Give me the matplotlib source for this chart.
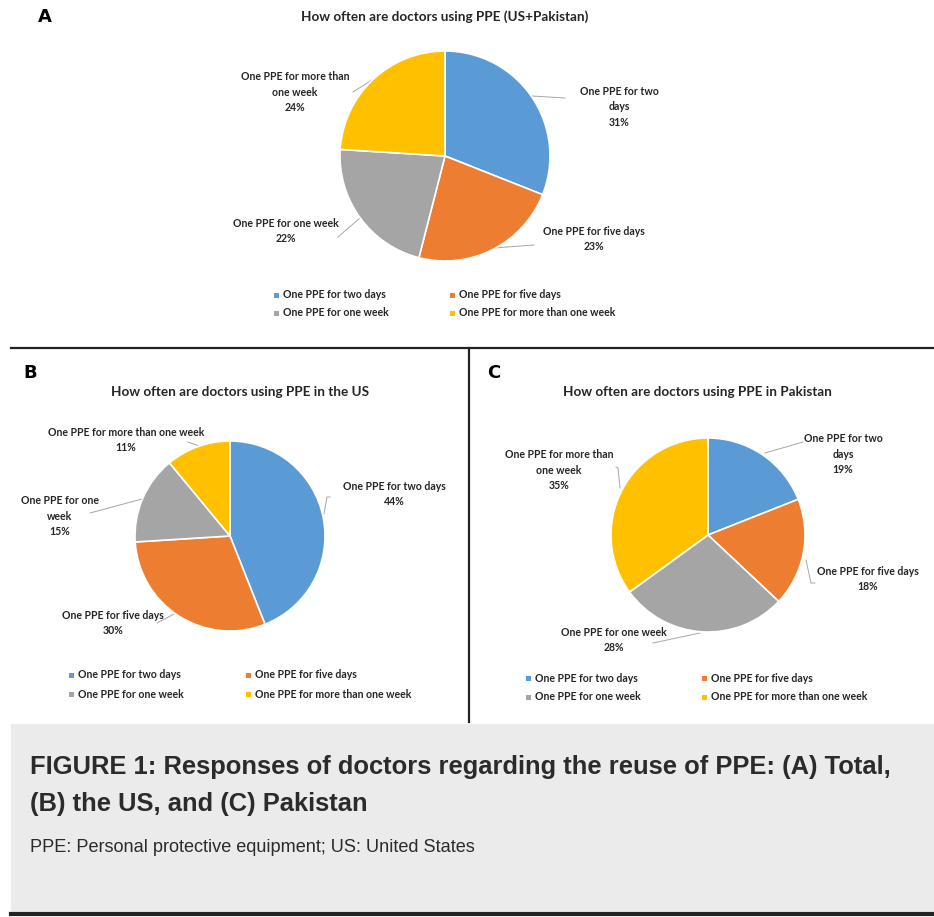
import matplotlib
matplotlib.use("Agg")
import matplotlib.pyplot as plt
from matplotlib.patches import Rectangle

# data
categories = ["One PPE for two days", "One PPE for five days",
              "One PPE for one week", "One PPE for more than one week"]
total_pct = [31, 23, 22, 24]
us_pct = [44, 30, 15, 11]
pak_pct = [19, 18, 28, 35]
colors = ["#5B9BD5", "#ED7D31", "#A5A5A5", "#FFC000"]

W, H = 934, 917
FONT = "Lato"
TXT = "#262626"
LEAD = "#A6A6A6"

fig = plt.figure(figsize=(W / 100, H / 100), dpi=100)
fig.patch.set_facecolor("white")

# overlay axes in pixel units (y down)
bg = fig.add_axes([0, 0, 1, 1])
bg.set_xlim(0, W)
bg.set_ylim(H, 0)
bg.axis("off")


def pie_panel(vals, cx, cy, r, letter, lx, ly, title, tx, ty, labels, legend):
    ax = fig.add_axes([(cx - r) / W, 1 - (cy + r) / H, 2 * r / W, 2 * r / H])
    ax.pie(vals, colors=colors, startangle=90, counterclock=False,
           wedgeprops=dict(edgecolor="white", linewidth=1.2))
    ax.set_xlim(-1, 1)
    ax.set_ylim(-1, 1)
    ax.axis("off")

    bg.text(lx, ly, letter, fontsize=13, fontweight="bold", family="DejaVu Sans",
            color="black", ha="left", va="center")
    bg.text(tx, ty, title, fontsize=9.7, fontweight="bold", family=FONT,
            color=TXT, ha="center", va="center")

    # data labels with leader lines
    for i, (name, x, y, line) in enumerate(labels):
        bg.text(x, y, f"{name}\n{vals[i]}%", fontsize=7.6, fontweight="bold",
                family=FONT, color=TXT, ha="center", va="center",
                multialignment="center", linespacing=1.45)
        xs, ys = zip(*line)
        bg.plot(xs, ys, color=LEAD, lw=0.7)

    # legend, 2 x 2
    (x1, x2), (y1, y2) = legend
    spots = [(x1, y1), (x2, y1), (x1, y2), (x2, y2)]
    for i, (x, y) in enumerate(spots):
        bg.add_patch(Rectangle((x - 2.5, y - 2.5), 5, 5, color=colors[i], lw=0))
        bg.text(x + 7, y, categories[i], fontsize=7.6, fontweight="bold",
                family=FONT, color=TXT, ha="left", va="center")


# panel A
pie_panel(total_pct, 445, 156, 105, "A", 38, 17,
          "How often are doctors using PPE (US+Pakistan)", 445, 17,
          [("One PPE for two\ndays", 619, 107, [(532, 96), (565, 98)]),
           ("One PPE for five days", 594, 239, [(494, 248), (534, 245)]),
           ("One PPE for one week", 286, 231, [(360, 218), (338, 237)]),
           ("One PPE for more than\none week", 295, 92, [(372, 80), (353, 92)])],
          ((276, 452), (295, 313)))

# panel B
pie_panel(us_pct, 230, 536, 95, "B", 23, 373,
          "How often are doctors using PPE in the US", 240, 392,
          [("One PPE for two days", 394, 494, [(324, 514), (327, 497), (330, 497)]),
           ("One PPE for five days", 113, 623, [(176, 613), (157, 623)]),
           ("One PPE for one\nweek", 60, 516, [(142, 499), (90, 513)]),
           ("One PPE for more than one week", 126, 440, [(199, 446), (188, 442)])],
          ((71, 248), (675, 694)))

# panel C
pie_panel(pak_pct, 708, 535, 97, "C", 487, 373,
          "How often are doctors using PPE in Pakistan", 697, 392,
          [("One PPE for two\ndays", 843, 454, [(765, 453), (803, 442)]),
           ("One PPE for five days", 868, 579, [(806, 560), (811, 583), (815, 583)]),
           ("One PPE for one week", 614, 640, [(700, 633), (653, 643)]),
           ("One PPE for more than\none week", 559, 470, [(620, 488), (618, 468), (616, 467)])],
          ((528, 704), (678, 697)))

# panel frame lines
bg.plot([11, W], [348, 348], color="#222222", lw=1.6)
bg.plot([469, 469], [348, 722], color="#222222", lw=1.6)

# caption box
bg.add_patch(Rectangle((11, 724), W - 11, 188, color="#EBEBEB", lw=0))
bg.plot([11, W], [914, 914], color="#222222", lw=3)
bg.text(30, 767, "FIGURE 1: Responses of doctors regarding the reuse of PPE: (A) Total,",
        fontsize=18.4, fontweight="bold", family="Liberation Sans", color="#2B2B2B",
        ha="left", va="center")
bg.text(30, 804, "(B) the US, and (C) Pakistan",
        fontsize=18.4, fontweight="bold", family="Liberation Sans", color="#2B2B2B",
        ha="left", va="center")
bg.text(30, 848, "PPE: Personal protective equipment; US: United States",
        fontsize=13.1, family="Liberation Sans", color="#2B2B2B",
        ha="left", va="center")

fig.savefig("out.png", dpi=100)
